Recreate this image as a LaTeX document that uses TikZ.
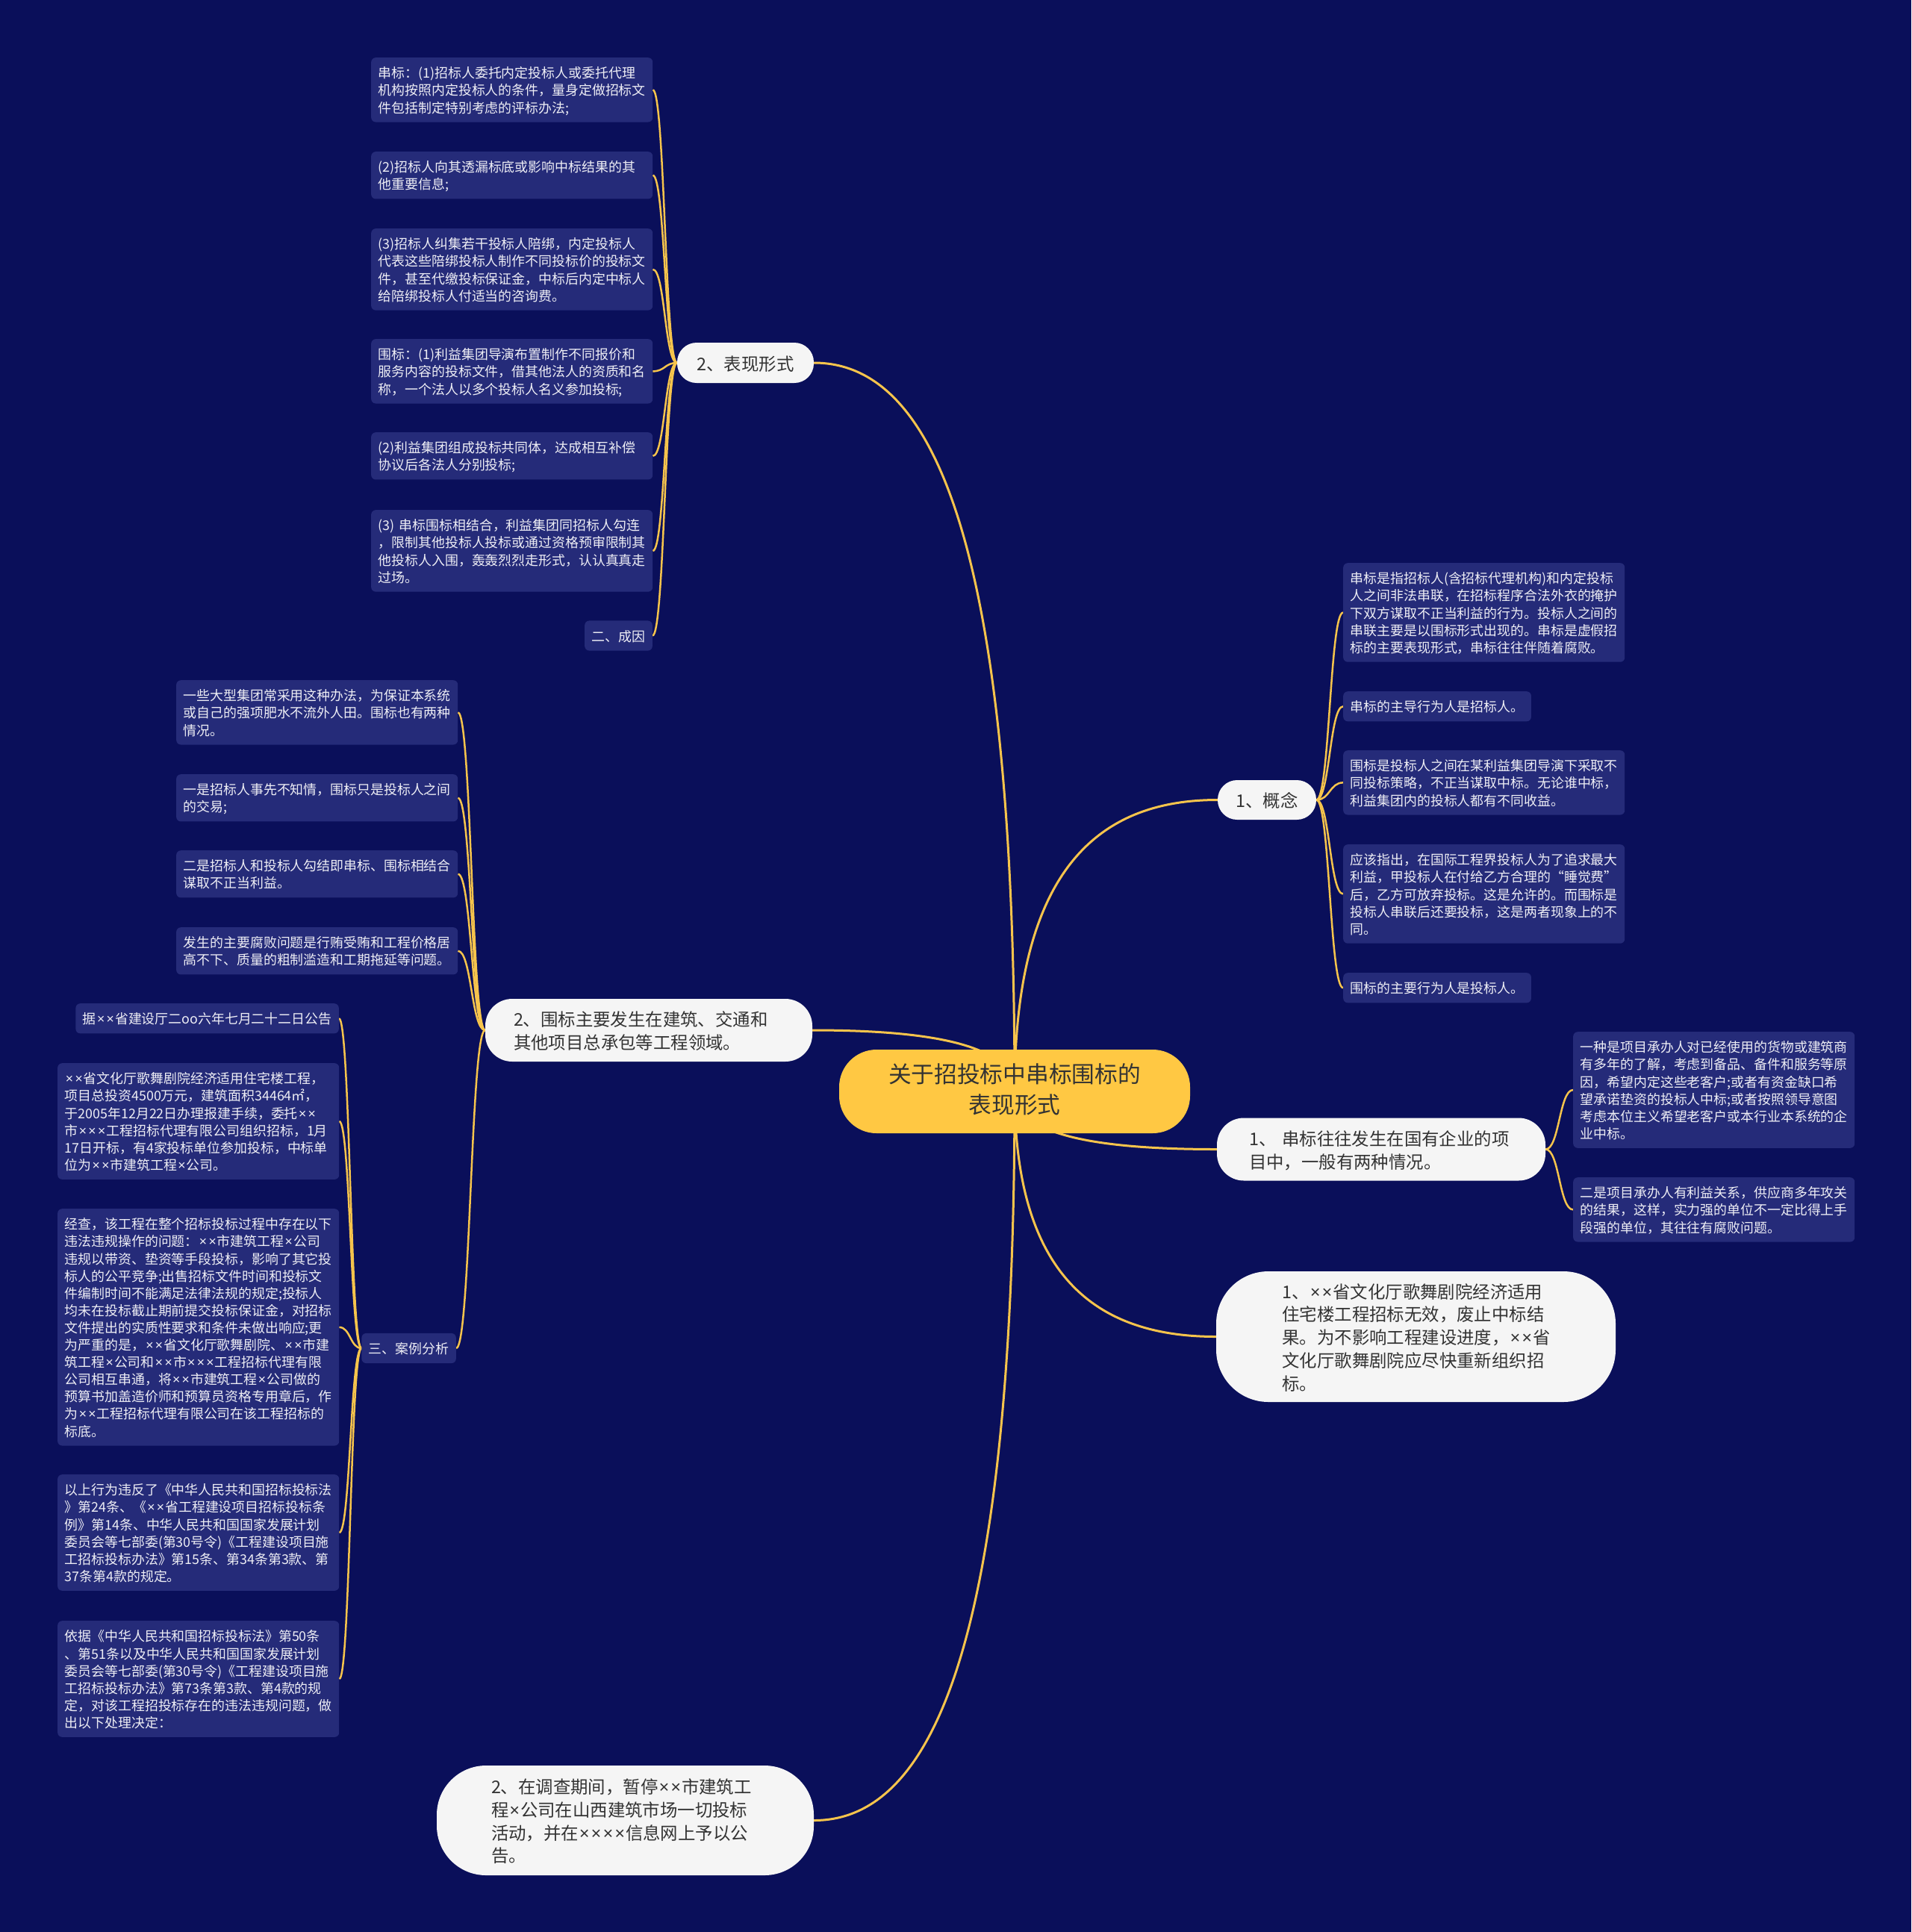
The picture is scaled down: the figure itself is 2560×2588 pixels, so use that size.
\documentclass[tikz,border=0pt]{standalone}
\usepackage{fontspec}
\setmainfont{Noto Sans CJK SC}
\newfontfamily\latx{Noto Sans}
\newcommand{\tm}{\kern1.2pt{\latx ×}\kern1.2pt}
\newcommand{\mystrut}{\rule[-0.17\baselineskip]{0pt}{\baselineskip}}
\usetikzlibrary{calc}
\definecolor{bgc}{RGB}{10,15,90}
\definecolor{leafc}{RGB}{37,43,121}
\definecolor{leaftxt}{RGB}{238,238,245}
\definecolor{gold}{RGB}{246,196,76}
\definecolor{rootc}{RGB}{255,200,67}
\definecolor{wfill}{RGB}{245,245,245}
\definecolor{wtxt}{RGB}{51,51,51}
\pgfdeclarelayer{bg}
\pgfsetlayers{bg,main}
\tikzset{
  leaf/.style={fill=leafc, rounded corners=6pt, text=leaftxt, font=\fontsize{17.9}{23.1}\selectfont, inner xsep=9.5pt, inner ysep=8.5pt, align=left, execute at begin node=\mystrut, execute at end node=\mystrut},
  leafw/.style={leaf, text width=358pt, anchor=north west},
  wnode/.style={fill=wfill, text=wtxt, font=\fontsize{23.4}{30.7}\selectfont, inner sep=0pt, align=left, execute at begin node=\mystrut, execute at end node=\mystrut},
  rootnode/.style={fill=rootc, text=wtxt, font=\fontsize{30.7}{41}\selectfont, inner sep=0pt, align=center, minimum width=470pt, minimum height=112pt, rounded corners=50pt, execute at begin node=\mystrut, execute at end node=\mystrut},
  mainlink/.style={draw=gold, line width=3pt, to path={.. controls ($(\tikztostart)!0.75!(\tikztostart|-\tikztotarget)$) and ($(\tikztotarget)!0.6!(\tikztostart|-\tikztotarget)$) .. (\tikztotarget)}},
  sublink/.style={draw=gold, line width=2.5pt, to path={.. controls ($(\tikztostart)!0.5!(\tikztostart-|\tikztotarget)$) and ($(\tikztotarget)!0.5!(\tikztotarget-|\tikztostart)$) .. (\tikztotarget)}},
}
\begin{document}
\begin{tikzpicture}[x=1pt,y=-1pt]
\begin{pgfonlayer}{bg}
\fill[bgc] (0,0) rectangle (2560,2588);
\end{pgfonlayer}
\useasboundingbox (0,0) rectangle (2560,2588);

% root and first level
\node[rootnode] (root) at (1359,1462) {关于招投标中串标围标的\\表现形式};
\node[wnode, minimum width=183pt, minimum height=54pt, rounded corners=26pt] (bx) at (998.5,486) {2、表现形式};
\node[wnode, minimum width=132pt, minimum height=53pt, rounded corners=26pt] (gn) at (1697,1071.5) {1、概念};
\node[wnode, text width=362pt, minimum width=438pt, minimum height=84pt, rounded corners=36pt] (wb) at (869,1380) {2、围标主要发生在建筑、交通和\\其他项目总承包等工程领域。};
\node[wnode, text width=354pt, minimum width=440pt, minimum height=84pt, rounded corners=36pt] (cb) at (1850,1539.5) {1、 串标往往发生在国有企业的项\\目中，一般有两种情况。};
\node[wnode, text width=358pt, minimum width=535pt, minimum height=175pt, rounded corners=70pt] (res1) at (1896.5,1790.5) {1、\tm\tm{}省文化厅歌舞剧院经济适用\\住宅楼工程招标无效，废止中标结\\果。为不影响工程建设进度，\tm\tm{}省\\文化厅歌舞剧院应尽快重新组织招\\标。};
\node[wnode, text width=359pt, minimum width=505pt, minimum height=147pt, rounded corners=66pt] (res2) at (837.5,2438.5) {2、在调查期间，暂停\tm\tm{}市建筑工\\程\tm{}公司在山西建筑市场一切投标\\活动，并在\tm\tm\tm\tm{}信息网上予以公\\告。};

% children of 2、表现形式
\node[leafw] (L1) at (497,77) {串标：(1)招标人委托内定投标人或委托代理\\机构按照内定投标人的条件，量身定做招标文\\件包括制定特别考虑的评标办法;};
\node[leafw] (L2) at (497,203) {(2)招标人向其透漏标底或影响中标结果的其\\他重要信息;};
\node[leafw] (L3) at (497,306) {(3)招标人纠集若干投标人陪绑，内定投标人\\代表这些陪绑投标人制作不同投标价的投标文\\件，甚至代缴投标保证金，中标后内定中标人\\给陪绑投标人付适当的咨询费。};
\node[leafw] (L4) at (497,454) {围标：(1)利益集团导演布置制作不同报价和\\服务内容的投标文件，借其他法人的资质和名\\称，一个法人以多个投标人名义参加投标;};
\node[leafw] (L5) at (497,579) {(2)利益集团组成投标共同体，达成相互补偿\\协议后各法人分别投标;};
\node[leafw] (L6) at (497,683) {(3) 串标围标相结合，利益集团同招标人勾连\\，限制其他投标人投标或通过资格预审限制其\\他投标人入围，轰轰烈烈走形式，认认真真走\\过场。};
\node[leaf, anchor=east] (L7) at (874,851.5) {二、成因};

% children of 2、围标主要发生...
\node[leafw] (M1) at (236,911) {一些大型集团常采用这种办法，为保证本系统\\或自己的强项肥水不流外人田。围标也有两种\\情况。};
\node[leafw] (M2) at (236,1037) {一是招标人事先不知情，围标只是投标人之间\\的交易;};
\node[leafw] (M3) at (236,1139) {二是招标人和投标人勾结即串标、围标相结合\\谋取不正当利益。};
\node[leafw] (M4) at (236,1242) {发生的主要腐败问题是行贿受贿和工程价格居\\高不下、质量的粗制滥造和工期拖延等问题。};
\node[leaf, anchor=east] (anli) at (611,1806) {三、案例分析};

% children of 三、案例分析
\node[leaf, anchor=north east] (C1) at (454,1344) {据\tm\tm{}省建设厅二oo六年七月二十二日公告};
\node[leafw] (C2) at (77,1424) {\tm\tm{}省文化厅歌舞剧院经济适用住宅楼工程，\\项目总投资4500万元，建筑面积34464㎡，\\于2005年12月22日办理报建手续，委托\tm\tm\\市\tm\tm\tm{}工程招标代理有限公司组织招标，1月\\17日开标，有4家投标单位参加投标，中标单\\位为\tm\tm{}市建筑工程\tm{}公司。};
\node[leafw] (C3) at (77,1619) {经查，该工程在整个招标投标过程中存在以下\\违法违规操作的问题：\tm\tm{}市建筑工程\tm{}公司\\违规以带资、垫资等手段投标，影响了其它投\\标人的公平竞争;出售招标文件时间和投标文\\件编制时间不能满足法律法规的规定;投标人\\均未在投标截止期前提交投标保证金，对招标\\文件提出的实质性要求和条件未做出响应;更\\为严重的是，\tm\tm{}省文化厅歌舞剧院、\tm\tm{}市建\\筑工程\tm{}公司和\tm\tm{}市\tm\tm\tm{}工程招标代理有限\\公司相互串通，将\tm\tm{}市建筑工程\tm{}公司做的\\预算书加盖造价师和预算员资格专用章后，作\\为\tm\tm{}工程招标代理有限公司在该工程招标的\\标底。};
\node[leafw] (C4) at (77,1975) {以上行为违反了《中华人民共和国招标投标法\\》第24条、《\tm\tm{}省工程建设项目招标投标条\\例》第14条、中华人民共和国国家发展计划\\委员会等七部委(第30号令)《工程建设项目施\\工招标投标办法》第15条、第34条第3款、第\\37条第4款的规定。};
\node[leafw] (C5) at (77,2171) {依据《中华人民共和国招标投标法》第50条\\、第51条以及中华人民共和国国家发展计划\\委员会等七部委(第30号令)《工程建设项目施\\工招标投标办法》第73条第3款、第4款的规\\定，对该工程招投标存在的违法违规问题，做\\出以下处理决定：};

% children of 1、概念
\node[leafw] (R1) at (1799,754) {串标是指招标人(含招标代理机构)和内定投标\\人之间非法串联，在招标程序合法外衣的掩护\\下双方谋取不正当利益的行为。投标人之间的\\串联主要是以围标形式出现的。串标是虚假招\\标的主要表现形式，串标往往伴随着腐败。};
\node[leaf, anchor=north west] (R2) at (1799,926) {串标的主导行为人是招标人。};
\node[leafw] (R3) at (1799,1005) {围标是投标人之间在某利益集团导演下采取不\\同投标策略，不正当谋取中标。无论谁中标，\\利益集团内的投标人都有不同收益。};
\node[leafw] (R4) at (1799,1131) {应该指出，在国际工程界投标人为了追求最大\\利益，甲投标人在付给乙方合理的“睡觉费”\\后，乙方可放弃投标。这是允许的。而围标是\\投标人串联后还要投标，这是两者现象上的不\\同。};
\node[leaf, anchor=north west] (R5) at (1799,1303) {围标的主要行为人是投标人。};

% children of 1、串标往往...
\node[leafw] (S1) at (2107,1382) {一种是项目承办人对已经使用的货物或建筑商\\有多年的了解，考虑到备品、备件和服务等原\\因，希望内定这些老客户;或者有资金缺口希\\望承诺垫资的投标人中标;或者按照领导意图\\考虑本位主义希望老客户或本行业本系统的企\\业中标。};
\node[leafw] (S2) at (2107,1577) {二是项目承办人有利益关系，供应商多年攻关\\的结果，这样，实力强的单位不一定比得上手\\段强的单位，其往往有腐败问题。};

% connectors
\begin{pgfonlayer}{bg}
\draw[mainlink] (root.center) to (bx.east);
\draw[mainlink] (root.center) to (gn.west);
\draw[mainlink] (root.center) to (wb.east);
\draw[mainlink] (root.center) to (cb.west);
\draw[mainlink] (root.center) to (res1.west);
\draw[mainlink] (root.center) to (res2.east);
\foreach \n in {L1,L2,L3,L4,L5,L6,L7} \draw[sublink] (bx.west) to (\n.east);
\foreach \n in {M1,M2,M3,M4,anli} \draw[sublink] (wb.west) to (\n.east);
\foreach \n in {C1,C2,C3,C4,C5} \draw[sublink] (anli.west) to (\n.east);
\foreach \n in {R1,R2,R3,R4,R5} \draw[sublink] (gn.east) to (\n.west);
\foreach \n in {S1,S2} \draw[sublink] (cb.east) to (\n.west);
\end{pgfonlayer}
\end{tikzpicture}
\end{document}
